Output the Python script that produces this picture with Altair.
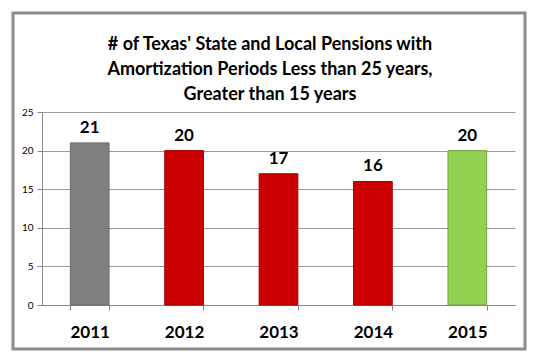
import altair as alt
import pandas as pd

years = ["2011", "2012", "2013", "2014", "2015"]
counts = [21, 20, 17, 16, 20]
colors = ["#808080", "#CC0000", "#CC0000", "#CC0000", "#92D050"]
strokes = ["#6b6b6b", "#a00000", "#a00000", "#a00000", "#7aa048"]
title_lines = ["# of Texas' State and Local Pensions with",
               "Amortization Periods Less than 25 years,",
               "Greater than 15 years"]

df = pd.DataFrame({"year": years, "count": counts, "color": colors, "stroke": strokes})

FONT = "Lato"
one = pd.DataFrame({"k": [0]})

frame = alt.Chart(one).mark_rect(
    fill=None, stroke="#8c8c8c", strokeWidth=3
).encode(
    x=alt.value(-29), x2=alt.value(483), y=alt.value(-99), y2=alt.value(237)
)

title = alt.Chart(one).mark_text(
    text=title_lines, font=FONT, fontSize=18, fontWeight="bold", color="#000000",
    lineHeight=25, align="center", baseline="middle"
).encode(x=alt.value(228), y=alt.value(-67))

base = alt.Chart(df).encode(
    x=alt.X("year:N", sort=years,
            scale=alt.Scale(paddingInner=0.59, paddingOuter=0.3),
            axis=alt.Axis(title=None, labelAngle=0, labelFont=FONT, labelFontSize=17,
                          labelFontWeight="bold", labelColor="#000000", labelPadding=14,
                          domainColor="#868686", tickColor="#868686", tickBand="extent",
                          tickSize=5, grid=False)),
    y=alt.Y("count:Q", scale=alt.Scale(domain=[0, 25]),
            axis=alt.Axis(title=None, values=[0, 5, 10, 15, 20, 25], labelFont=FONT,
                          labelFontSize=10, labelColor="#000000", labelPadding=4,
                          labelOverlap=False,
                          domainColor="#868686", tickColor="#868686", tickSize=5,
                          gridColor="#9a9a9a", gridWidth=1)),
)

bars = base.mark_bar(strokeWidth=1).encode(
    color=alt.Color("color:N", scale=None),
    stroke=alt.Stroke("stroke:N", scale=None),
)

text = base.mark_text(baseline="bottom", dy=-6, font=FONT, fontSize=17,
                      fontWeight="bold", color="#000000").encode(
    text="count:Q",
)

chart = alt.layer(bars, text, frame, title).properties(
    width=473,
    height=193,
).configure(
    background="#ffffff",
    padding={"left": 42, "top": 112, "right": 21, "bottom": 52},
    autosize=alt.AutoSizeParams(type="none"),
).configure_view(stroke=None)

chart.save("out.html", embed_options={"renderer": "svg", "actions": False})
